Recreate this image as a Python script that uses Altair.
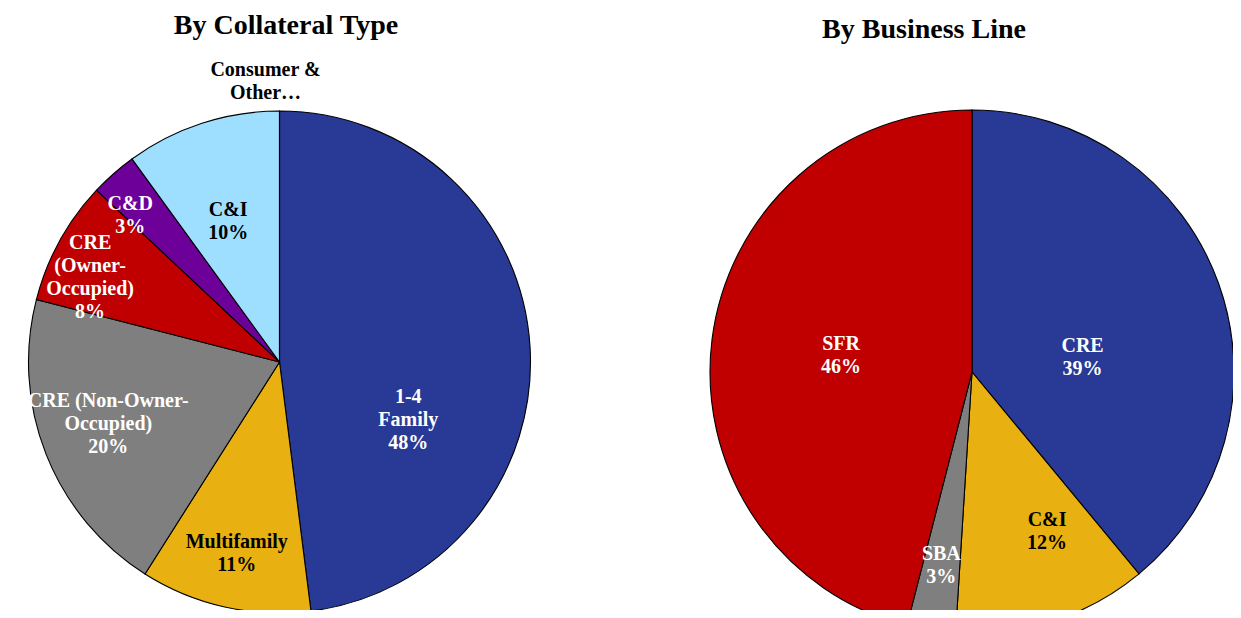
import altair as alt
import pandas as pd

# ---------------- data ----------------
TITLE_LEFT = "By Collateral Type"
TITLE_RIGHT = "By Business Line"

LEFT_CATS = ["1-4 Family", "Multifamily", "CRE (Non-Owner-Occupied)",
             "CRE (Owner-Occupied)", "C&D", "C&I", "Consumer & Other"]
LEFT_LABELS = ["1-4\nFamily", "Multifamily", "CRE (Non-Owner-\nOccupied)",
               "CRE\n(Owner-\nOccupied)", "C&D", "C&I", "Consumer  &\nOther\u2026"]
LEFT_PCT = [48, 11, 20, 8, 3, 10, 0]
LEFT_SHOW_PCT = [True, True, True, True, True, True, False]
LEFT_COLORS = ["#283A96", "#E8B010", "#7F7F7F", "#C00000", "#6C0098", "#9EDEFF", "#FFFFFF"]
LEFT_TEXT_COLORS = ["white", "black", "white", "white", "white", "black", "black"]

RIGHT_CATS = ["CRE", "C&I", "SBA", "SFR"]
RIGHT_LABELS = ["CRE", "C&I", "SBA", "SFR"]
RIGHT_PCT = [39, 12, 3, 46]
RIGHT_SHOW_PCT = [True, True, True, True]
RIGHT_COLORS = ["#283A96", "#E8B010", "#7F7F7F", "#C00000"]
RIGHT_TEXT_COLORS = ["white", "black", "white", "white"]

# ---------------- layout (pixels, not data) ----------------
W, H = 1225, 602
FONT = "Liberation Serif"
LINE_H = 23
LEFT_CENTER = (271.5, 354)
LEFT_R = 251
RIGHT_CENTER = (964, 364)
RIGHT_R = 262
# label placement: radius along slice mid-angle, plus small nudges
LEFT_LABEL_POS = {
    "1-4 Family": (125, 4, 66),
    "Multifamily": (196, 0, 0),
    "CRE (Non-Owner-Occupied)": (182, -2, -5),
    "CRE (Owner-Occupied)": (207, -8, 15),
    "C&D": (209, -11, 10),
    "C&I": (150, -5, 2),
    "Consumer & Other": (281, -14, 0),
}
RIGHT_LABEL_POS = {
    "CRE": (109, 8, 22),
    "C&I": (175, 21, -7),
    "SBA": (196, 0, 0),
    "SFR": (132, 0, 0),
}


def build_df(cats, labels, pct, show, colors, tcolors):
    df = pd.DataFrame({
        "cat": cats, "label": labels, "value": pct,
        "color": colors, "tcolor": tcolors, "show": show,
    })
    df["end"] = df["value"].cumsum()
    df["start"] = df["end"] - df["value"]
    df["mid"] = (df["start"] + df["end"]) / 2
    df["text"] = [
        f"{l}\n{v}%" if s else l for l, v, s in zip(df["label"], df["value"], df["show"])
    ]
    return df


theta_scale = alt.Scale(domain=[0, 100])


def pie(df, center, r, label_pos):
    cx, cy = center
    arcs = alt.Chart(df).mark_arc(
        radius=r, stroke="black", strokeWidth=1.1
    ).encode(
        theta=alt.Theta("start:Q", scale=theta_scale, stack=None),
        theta2="end:Q",
        color=alt.Color("color:N", scale=None),
        x=alt.value(cx), y=alt.value(cy),
    )
    layers = [arcs]
    texts = dict(zip(df["cat"], df["text"]))
    for cat, (lr, dx, dy) in label_pos.items():
        nlines = texts[cat].count("\n") + 1
        dy_c = dy - (nlines - 1) * LINE_H / 2.0
        t = alt.Chart(df).transform_filter(
            alt.datum.cat == cat
        ).mark_text(
            radius=lr, dx=dx, dy=dy_c, font=FONT, fontSize=20, fontWeight="bold",
            lineBreak="\n", lineHeight=LINE_H, align="center", baseline="middle",
        ).encode(
            theta=alt.Theta("mid:Q", scale=theta_scale, stack=None),
            text="text:N",
            color=alt.Color("tcolor:N", scale=None),
            x=alt.value(cx), y=alt.value(cy),
        )
        layers.append(t)
    return layers


left_df = build_df(LEFT_CATS, LEFT_LABELS, LEFT_PCT, LEFT_SHOW_PCT, LEFT_COLORS, LEFT_TEXT_COLORS)
right_df = build_df(RIGHT_CATS, RIGHT_LABELS, RIGHT_PCT, RIGHT_SHOW_PCT, RIGHT_COLORS, RIGHT_TEXT_COLORS)

titles = pd.DataFrame({"t": [TITLE_LEFT, TITLE_RIGHT]})
title_left = alt.Chart(titles).transform_filter(alt.datum.t == TITLE_LEFT).mark_text(
    font=FONT, fontSize=28, fontWeight="bold", align="center", baseline="alphabetic", color="black"
).encode(text="t:N", x=alt.value(278), y=alt.value(26))
title_right = alt.Chart(titles).transform_filter(alt.datum.t == TITLE_RIGHT).mark_text(
    font=FONT, fontSize=28, fontWeight="bold", align="center", baseline="alphabetic", color="black"
).encode(text="t:N", x=alt.value(916), y=alt.value(30))

layers = pie(left_df, LEFT_CENTER, LEFT_R, LEFT_LABEL_POS) + \
    pie(right_df, RIGHT_CENTER, RIGHT_R, RIGHT_LABEL_POS) + [title_left, title_right]

chart = alt.layer(*layers).properties(
    width=W, height=H, autosize=alt.AutoSizeParams(type="none"), padding=0,
    background="white",
).configure_view(stroke=None)

chart.save("out.html", embed_options={"renderer": "svg", "actions": False})
